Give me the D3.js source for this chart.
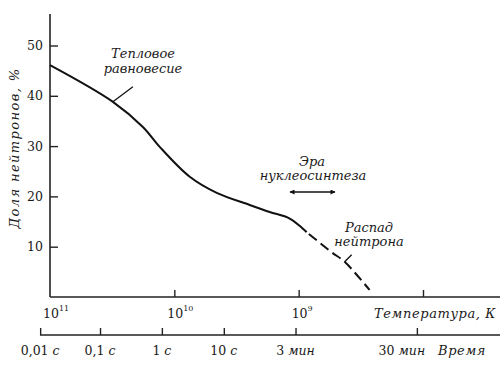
<!DOCTYPE html>
<html>
<head>
<meta charset="utf-8">
<script src="https://cdn.jsdelivr.net/npm/d3@7"></script>
<style>
	body { margin: 0; background: #fff; }
	text { font-family: 'DejaVu Serif', serif; fill: #1a1a1a; }
	.it { font-style: italic; }
</style>
</head>
<body>
<div id="chart_div"></div>
<script>
// neutron fraction vs temperature
var y_ticks = [10, 20, 30, 40, 50];
var temp_ticks = [1e10, 1e9, 1e8];
var temp_labels = [11, 10, 9]; // exponents shown as 10^n
var time_labels = ['0,01', '0,1', '1', '10', '3', '30'];
var time_units = ['с', 'с', 'с', 'с', 'мин', 'мин'];
// temperature at which each time tick sits
var time_tick_temps = [1.2e11, 3.96e10, 1.26e10, 4.0e9, 1.06e9, 1.12e8];

// equilibrium part (solid), log10 T and neutron fraction %
var solid_logT = [11.0, 10.494, 10.253, 10.116, 9.876, 9.659, 9.394, 9.233, 9.072, 8.936];
var solid_frac = [46.1, 38.8, 33.8, 29.8, 23.9, 20.7, 18.3, 16.9, 15.6, 12.9];
// neutron decay part (dashed)
var dash_logT = [8.936, 8.735, 8.63, 8.43];
var dash_frac = [12.9, 8.9, 7.0, 1.4];

function draw_chart() {
	var width = 500;
	var height = 371;
	var svg = d3.select('#chart_div').append('svg')
		.attr('width', width)
		.attr('height', height);

	var x_axis_y = 297;
	var time_axis_y = 335;

	var x = d3.scaleLog().domain([1e11, 1e8]).range([50, 423]);
	var y = d3.scaleLinear().domain([0, 50]).range([x_axis_y, 45.5]);

	// y axis
	svg.append('line')
		.attr('x1', 50).attr('x2', 50)
		.attr('y1', 14).attr('y2', x_axis_y)
		.attr('stroke', '#222').attr('stroke-width', 1.6);

	var y_axis = svg.append('g')
		.attr('transform', 'translate(50,0)')
		.call(d3.axisLeft(y).tickValues(y_ticks).tickSize(-8).tickSizeOuter(0).tickPadding(7));
	y_axis.select('.domain').remove();
	y_axis.selectAll('line').attr('stroke', '#222').attr('stroke-width', 1.4);
	y_axis.selectAll('text')
		.attr('font-family', 'DejaVu Serif')
		.attr('font-size', 12.5)
		.attr('fill', '#1a1a1a');

	svg.append('text')
		.attr('class', 'it')
		.attr('transform', 'translate(19,148) rotate(-90)')
		.attr('text-anchor', 'middle')
		.attr('font-size', 13)
		.attr('letter-spacing', 1.4)
		.text('Доля нейтронов, %');

	// temperature axis
	svg.append('line')
		.attr('x1', 50).attr('x2', 500)
		.attr('y1', x_axis_y).attr('y2', x_axis_y)
		.attr('stroke', '#222').attr('stroke-width', 1.6);

	var t_axis = svg.append('g')
		.attr('transform', 'translate(0,' + x_axis_y + ')')
		.call(d3.axisBottom(x).tickValues(temp_ticks).tickSize(-7).tickSizeOuter(0).tickFormat(''));
	t_axis.select('.domain').remove();
	t_axis.selectAll('line').attr('stroke', '#222').attr('stroke-width', 1.4);

	var t_lab = svg.selectAll('.temp_label')
		.data(temp_labels)
		.enter()
		.append('text')
		.attr('class', 'temp_label')
		.attr('x', (d) => x(Math.pow(10, d)) - 7)
		.attr('y', 318)
		.attr('font-size', 12.5);
	t_lab.append('tspan').text('10');
	t_lab.append('tspan')
		.attr('font-size', 8)
		.attr('dy', -7)
		.text((d) => d);

	svg.append('text')
		.attr('class', 'it')
		.attr('x', 496)
		.attr('y', 318)
		.attr('text-anchor', 'end')
		.attr('font-size', 13)
		.attr('letter-spacing', 0.6)
		.text('Температура, К');

	// time axis
	svg.append('line')
		.attr('x1', 40).attr('x2', 500)
		.attr('y1', time_axis_y).attr('y2', time_axis_y)
		.attr('stroke', '#222').attr('stroke-width', 1.6);

	var time_axis = svg.append('g')
		.attr('transform', 'translate(0,' + time_axis_y + ')')
		.call(d3.axisBottom(x).tickValues(time_tick_temps).tickSize(-7).tickSizeOuter(0).tickFormat(''));
	time_axis.select('.domain').remove();
	time_axis.selectAll('line').attr('stroke', '#222').attr('stroke-width', 1.4);

	var time_lab = svg.selectAll('.time_label')
		.data(time_labels)
		.enter()
		.append('text')
		.attr('class', 'time_label')
		.attr('x', function (d, i) {
			// last label is pushed left to leave room for the axis title
			var shift = i === time_labels.length - 1 ? -15 : 0;
			return x(time_tick_temps[i]) + shift;
		})
		.attr('y', 355)
		.attr('text-anchor', 'middle')
		.attr('font-size', 12.5);
	time_lab.append('tspan').text((d) => d + ' ');
	time_lab.append('tspan')
		.attr('class', 'it')
		.text((d, i) => time_units[i]);

	svg.append('text')
		.attr('class', 'it')
		.attr('x', 486)
		.attr('y', 355)
		.attr('text-anchor', 'end')
		.attr('font-size', 13)
		.attr('letter-spacing', 0.6)
		.text('Время');

	// curve
	var line = d3.line()
		.x((d) => x(Math.pow(10, d[0])))
		.y((d) => y(d[1]))
		.curve(d3.curveCatmullRom.alpha(0.5));

	svg.append('path')
		.datum(d3.zip(solid_logT, solid_frac))
		.attr('d', line)
		.attr('fill', 'none')
		.attr('stroke', '#111')
		.attr('stroke-width', 2);

	svg.append('path')
		.datum(d3.zip(dash_logT, dash_frac))
		.attr('d', line)
		.attr('fill', 'none')
		.attr('stroke', '#111')
		.attr('stroke-width', 2)
		.attr('stroke-dasharray', '10,5')
		.attr('stroke-dashoffset', -3);

	// annotations
	var eq_pt = [x(Math.pow(10, 10.494)), y(38.8)];
	svg.append('line')
		.attr('x1', eq_pt[0]).attr('y1', eq_pt[1])
		.attr('x2', eq_pt[0] + 20).attr('y2', eq_pt[1] - 15)
		.attr('stroke', '#111').attr('stroke-width', 1.3);

	svg.append('text').attr('class', 'it')
		.attr('x', 143).attr('y', 58)
		.attr('text-anchor', 'middle').attr('font-size', 13)
		.text('Тепловое');
	svg.append('text').attr('class', 'it')
		.attr('x', 143).attr('y', 73)
		.attr('text-anchor', 'middle').attr('font-size', 13)
		.text('равновесие');

	var decay_pt = [x(Math.pow(10, 8.63)), y(7.0)];
	svg.append('line')
		.attr('x1', decay_pt[0]).attr('y1', decay_pt[1])
		.attr('x2', decay_pt[0] + 7).attr('y2', decay_pt[1] - 7)
		.attr('stroke', '#111').attr('stroke-width', 1.3);

	svg.append('text').attr('class', 'it')
		.attr('x', 369).attr('y', 232)
		.attr('text-anchor', 'middle').attr('font-size', 13)
		.text('Распад');
	svg.append('text').attr('class', 'it')
		.attr('x', 369).attr('y', 246)
		.attr('text-anchor', 'middle').attr('font-size', 13)
		.text('нейтрона');

	svg.append('text').attr('class', 'it')
		.attr('x', 312).attr('y', 166)
		.attr('text-anchor', 'middle').attr('font-size', 13)
		.text('Эра');
	svg.append('text').attr('class', 'it')
		.attr('x', 313).attr('y', 180)
		.attr('text-anchor', 'middle').attr('font-size', 13)
		.text('нуклеосинтеза');

	var defs = svg.append('defs');
	defs.append('marker')
		.attr('id', 'arrow_head')
		.attr('viewBox', '0 0 10 10')
		.attr('refX', 9).attr('refY', 5)
		.attr('markerWidth', 7).attr('markerHeight', 5)
		.attr('markerUnits', 'userSpaceOnUse')
		.attr('orient', 'auto-start-reverse')
		.append('path')
		.attr('d', 'M0,0 L10,5 L0,10 z')
		.attr('fill', '#111');

	svg.append('line')
		.attr('x1', 290).attr('x2', 335)
		.attr('y1', 192).attr('y2', 192)
		.attr('stroke', '#111').attr('stroke-width', 1.4)
		.attr('marker-start', 'url(#arrow_head)')
		.attr('marker-end', 'url(#arrow_head)');
}

draw_chart();
</script>
</body>
</html>
